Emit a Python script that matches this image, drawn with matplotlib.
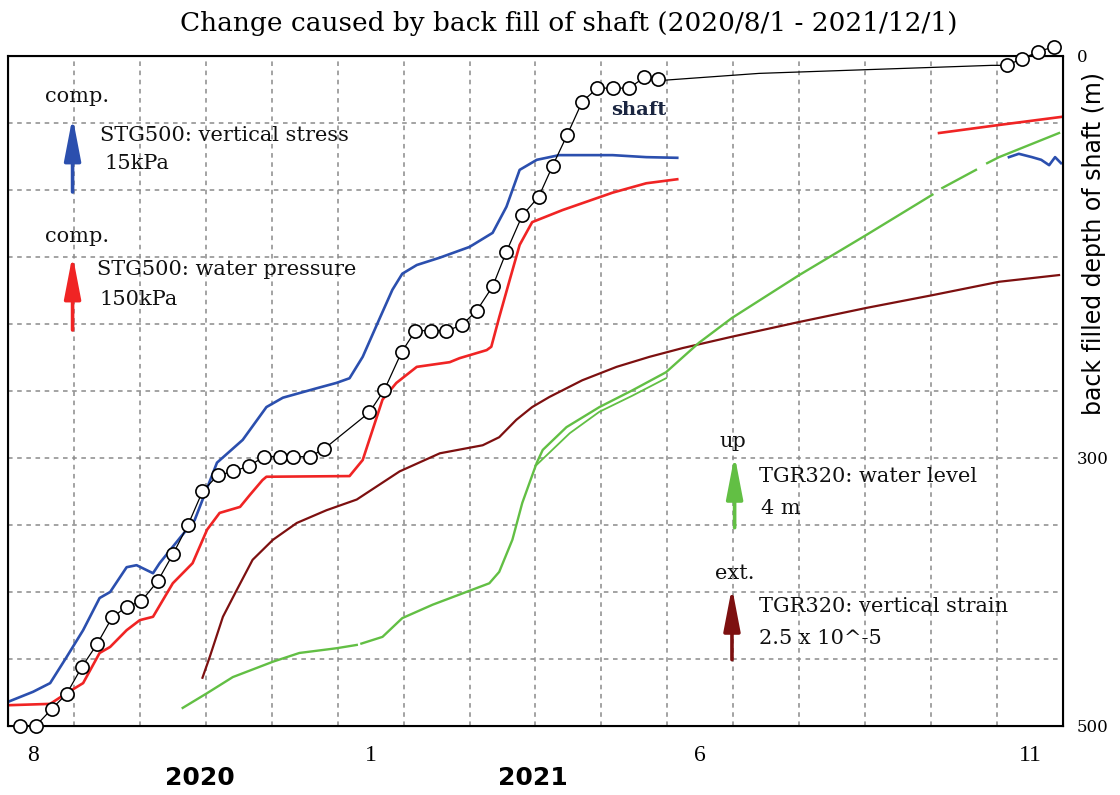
import numpy as np
import matplotlib
matplotlib.use('Agg')
import matplotlib.pyplot as plt

nan = np.nan

# x: months since 2020/8/1, y: chart divisions (0 = bottom, 10 = top)
stress_x = [0.00, 0.38, 0.64, 0.89, 1.14, 1.39, 1.55, 1.80, 1.95, 2.20, 2.30, 2.61, 2.83,
            3.17, 3.56, 3.92, 4.17, 4.68, 4.98, 5.18, 5.38, 5.64, 5.83, 5.98, 6.20, 6.55,
            7.00, 7.35, 7.56, 7.76, 8.02, 8.36, 8.67, 9.17, 9.68, 10.15,
            nan, 15.18, 15.33, 15.53, 15.67, 15.79, 15.88, 15.97]
stress_y = [0.36, 0.51, 0.64, 1.03, 1.43, 1.91, 2.00, 2.37, 2.40, 2.28, 2.43, 2.81, 3.07,
            3.93, 4.27, 4.76, 4.90, 5.04, 5.12, 5.19, 5.51, 6.09, 6.51, 6.75, 6.88, 6.99,
            7.15, 7.36, 7.75, 8.30, 8.45, 8.52, 8.52, 8.52, 8.49, 8.48,
            nan, 8.49, 8.54, 8.49, 8.45, 8.37, 8.49, 8.40]

water_p_x = [0.00, 0.64, 0.89, 1.14, 1.39, 1.55, 1.80, 2.00, 2.20, 2.50, 2.80, 3.02, 3.21,
             3.52, 3.67, 3.86, 3.92, 5.18, 5.38, 5.68, 5.89, 6.20, 6.70, 6.85, 7.26, 7.33,
             7.45, 7.61, 7.76, 7.95, 8.41, 9.17, 9.68, 10.15,
             nan, 14.12, 15.03, 15.97]
water_p_y = [0.31, 0.33, 0.49, 0.64, 1.09, 1.18, 1.43, 1.58, 1.63, 2.13, 2.43, 2.93, 3.18,
             3.27, 3.45, 3.67, 3.72, 3.73, 3.97, 4.87, 5.12, 5.36, 5.43, 5.49, 5.61, 5.66,
             6.10, 6.66, 7.18, 7.52, 7.70, 7.96, 8.10, 8.16,
             nan, 8.85, 8.97, 9.09]

strain_x = [2.95, 3.06, 3.26, 3.47, 3.71, 4.02, 4.38, 4.83, 5.29, 5.94, 6.55, 7.20, 7.45,
            7.71, 7.95, 8.21, 8.71, 9.23, 9.73, 10.23, 10.98, 12.00, 13.02, 14.02, 15.03, 15.94]
strain_y = [0.72, 1.03, 1.63, 2.03, 2.48, 2.78, 3.03, 3.22, 3.38, 3.80, 4.07, 4.19, 4.31,
            4.57, 4.76, 4.91, 5.16, 5.36, 5.51, 5.64, 5.81, 6.03, 6.24, 6.43, 6.63, 6.73]

level_x = [2.65, 3.02, 3.41, 4.02, 4.42, 4.98, 5.29, nan, 5.36, 5.68, 5.98, 6.44, 6.95, 7.30,
           7.45, 7.65, 7.80, 8.02, 8.11, 8.47, 8.97, 9.47, 9.98, 10.48, 10.98, 12.00, 13.02,
           14.02, nan, 14.17, 14.68, nan, 14.85, 15.03, 15.94]
level_y = [0.27, 0.49, 0.73, 0.96, 1.09, 1.16, 1.21, nan, 1.23, 1.33, 1.61, 1.81, 2.00, 2.13,
           2.30, 2.78, 3.33, 3.93, 4.12, 4.46, 4.76, 5.01, 5.28, 5.72, 6.09, 6.73, 7.33,
           7.93, nan, 8.03, 8.30, nan, 8.40, 8.49, 8.85]
level2_x = [8.02, 8.52, 8.97, 9.47, 9.98]
level2_y = [3.90, 4.37, 4.69, 4.93, 5.19]

# back filled depth of shaft (m)
shaft_x = [0.18, 0.42, 0.67, 0.89, 1.12, 1.35, 1.58, 1.80, 2.02, 2.27, 2.50, 2.73, 2.95, 3.18,
           3.42, 3.65, 3.89, 4.12, 4.33, 4.58, 4.80, 5.48, 5.71, 5.97, 6.18, 6.42, 6.65, 6.88,
           7.11, 7.35, 7.56, 7.80, 8.05, 8.26, 8.48, 8.71, 8.94, 9.18, 9.42, 9.65, 9.86,
           9.98, 11.39, 14.92, 15.15, 15.38, 15.62, 15.86]
shaft_depth = [500, 500, 487, 476, 456, 439, 419, 411, 407, 392, 372, 350, 325, 313,
               310, 306, 299, 299, 299, 299, 293, 266, 249, 221, 205, 205, 205, 201,
               190, 172, 146, 119, 105, 82, 59, 34, 24, 24, 24, 16, 17,
               18, 13, 7, 7, 2, -3, -7]
shaft_marks = [i for i in range(len(shaft_x)) if i not in (41, 42, 43)]

month_ticks = [0.38, 5.5, 10.5, 15.5]
month_labels = ['8', '1', '6', '11']

serif = 'Liberation Serif'
wserif = 'DejaVu Serif'

fig = plt.figure(figsize=(11.2, 7.95), dpi=100)
ax = fig.add_axes([0.0071, 0.0868, 0.9420, 0.8428])

ax.set_xlim(0, 16)
ax.set_ylim(0, 10)
ax.set_xticks(np.arange(1, 16), minor=True)
ax.set_yticks(np.arange(1, 10), minor=True)
ax.set_xticks(month_ticks)
ax.set_xticklabels(month_labels, fontfamily=serif, fontsize=17)
ax.set_yticks([])
ax.tick_params(axis='x', which='both', length=0, pad=14)
ax.tick_params(axis='y', which='both', length=0)
ax.grid(True, which='minor', color='#8a8a8a', linestyle=(0, (3, 3)), linewidth=1.1)
ax.set_axisbelow(True)
for s in ax.spines.values():
    s.set_linewidth(1.5)

ax.plot(stress_x, stress_y, color='#2b4fae', lw=1.9)
ax.plot(water_p_x, water_p_y, color='#f02424', lw=1.9)
ax.plot(strain_x, strain_y, color='#7d1010', lw=1.6)
ax.plot(level_x, level_y, color='#62bf44', lw=1.7)
ax.plot(level2_x, level2_y, color='#62bf44', lw=1.3)

# scale arrows
def scale_arrow(x, y0, y1, color):
    ax.annotate('', xy=(x, y1), xytext=(x, y0),
                arrowprops=dict(arrowstyle='-|>,head_length=1.3,head_width=0.25',
                                mutation_scale=20, lw=2.6, color=color,
                                shrinkA=0, shrinkB=0))

scale_arrow(0.98, 7.97, 9.09, '#2b4fae')
scale_arrow(0.98, 5.91, 7.03, '#f02424')
scale_arrow(11.02, 2.96, 4.04, '#62bf44')
scale_arrow(10.98, 0.99, 2.07, '#7d1010')

tkw = dict(fontfamily=wserif, fontsize=15, va='center', ha='left', color='#111111')
ax.text(0.56, 9.39, 'comp.', **tkw)
ax.text(1.39, 8.82, 'STG500: vertical stress', **tkw)
ax.text(1.47, 8.39, '15kPa', **tkw)
ax.text(0.56, 7.30, 'comp.', **tkw)
ax.text(1.35, 6.81, 'STG500: water pressure', **tkw)
ax.text(1.39, 6.36, '150kPa', **tkw)
ax.text(10.79, 4.24, 'up', **tkw)
ax.text(11.39, 3.73, 'TGR320: water level', **tkw)
ax.text(11.42, 3.25, '4 m', **tkw)
ax.text(10.73, 2.28, 'ext.', **tkw)
ax.text(11.39, 1.78, 'TGR320: vertical strain', **tkw)
ax.text(11.39, 1.31, '2.5 x 10^-5', **tkw)
ax.text(9.15, 9.19, 'shaft', fontfamily=wserif, fontsize=14, fontweight='bold',
        va='center', ha='left', color='#1a2540')

ax2 = ax.twinx()
ax2.set_ylim(500, 0)
ax2.set_yticks([0, 300, 500])
ax2.set_yticklabels(['0', '300', '500'], fontfamily=wserif, fontsize=12)
ax2.tick_params(axis='y', length=0, pad=10)
ax2.plot(shaft_x, shaft_depth, color='black', lw=0.9, marker='o', markersize=9.5,
         markerfacecolor='white', markeredgecolor='black', markeredgewidth=1.2,
         markevery=shaft_marks, clip_on=False, zorder=5)
ax2.set_ylabel('back filled depth of shaft (m)', fontfamily='DejaVu Sans', fontsize=17)
ax2.yaxis.set_label_coords(1.018, 0.72)

fig.text(200 / 1120, 1 - 778 / 795, '2020', fontfamily='DejaVu Sans', fontsize=18,
         fontweight='bold', ha='center', va='center')
fig.text(533 / 1120, 1 - 778 / 795, '2021', fontfamily='DejaVu Sans', fontsize=18,
         fontweight='bold', ha='center', va='center')
fig.text(0.508, 1 - 23 / 795, 'Change caused by back fill of shaft (2020/8/1 - 2021/12/1)',
         fontfamily=wserif, fontsize=19, ha='center', va='center')

fig.savefig('out.png', dpi=100)
